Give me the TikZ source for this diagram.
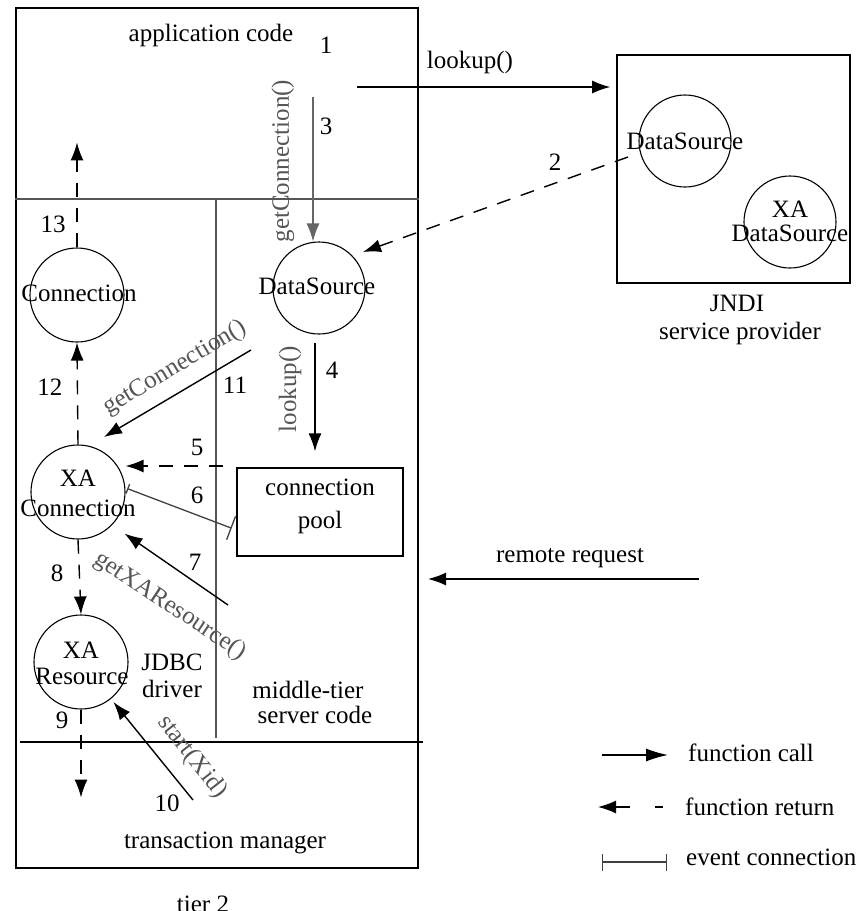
\documentclass[tikz,border=0pt]{standalone}
\usepackage{fontspec}
\setmainfont{Liberation Serif}
\usetikzlibrary{arrows.meta,calc}
\definecolor{fgray}{HTML}{555555}
\definecolor{lgray}{HTML}{666666}
\tikzset{
  lbl/.style={font=\fontsize{25}{28}\selectfont, inner sep=0pt},
  glbl/.style={lbl, text=fgray},
  circ/.style={draw, circle, line width=1.1pt, minimum size=#1, inner sep=0pt},
  call/.style={line width=1.4pt, -{Latex[length=18pt,width=13pt]}},
  gcall/.style={call, draw=lgray},
  ret/.style={call, dash pattern=on 14pt off 11pt},
  evt/.style={line width=1.3pt, draw=black!75},
  divider/.style={line width=1.5pt, draw=fgray},
}
\begin{document}
\begin{tikzpicture}[x=1pt,y=-1pt]
\useasboundingbox (0,0) rectangle (865,911);

% main tier box and dividers
\node[draw, line width=2pt, minimum width=402pt, minimum height=860pt, inner sep=0pt] (tier) at (217,438) {};
\draw[divider] (tier.west |- 0,199) -- (tier.east |- 0,199);
\draw[divider] (216,199) -- (216,738);
\draw[line width=1.5pt] (20,742) -- (423,742);

% texts in tier box
\node[lbl] (appcode) at (211,35) {application code};
\node[lbl] (n1) at (326,45) {1};
\node[lbl] (jdbc1) at (172,662) {JDBC};
\node[lbl] (jdbc2) at (172,689) {driver};
\node[lbl] (mid1) at (308,690) {middle-tier};
\node[lbl] (mid2) at (315,715) {server code};
\node[lbl] (tm) at (225,843) {transaction manager};
\node[lbl, anchor=base] (tier2) at (203,912) {tier 2};

% JNDI box
\node[draw, line width=1.6pt, minimum width=233pt, minimum height=228pt, inner sep=0pt] (jndi) at (733.5,169) {};
\node[circ=92pt] (jds) at (685,141) {};
\node[lbl] at (jds) {DataSource};
\node[circ=92pt] (jxa) at (790,222) {};
\node[lbl] (jxa1) at (790,209) {XA};
\node[lbl] (jxa2) at (790,233) {DataSource};
\node[lbl] (jndil1) at (737,303) {JNDI};
\node[lbl] (jndil2) at (740,333) {service provider};

% middle-tier objects
\node[circ=92pt] (ds) at (319,288) {};
\node[lbl] at (317,286) {DataSource};
\node[circ=94pt] (con) at (77,295) {};
\node[lbl] at (79,293) {Connection};
\node[circ=94pt] (xac) at (78,492) {};
\node[lbl] (xac1) at (78,478) {XA};
\node[lbl] (xac2) at (78,508) {Connection};
\node[circ=94pt] (xar) at (81,662) {};
\node[lbl] (xar1) at (81,650) {XA};
\node[lbl] (xar2) at (82,676) {Resource};
\node[draw, line width=1.3pt, minimum width=166pt, minimum height=88pt, inner sep=0pt] (pool) at (320,512) {};
\node[lbl] (pool1) at (320,487) {connection};
\node[lbl] (pool2) at (320,522) {pool};

% 1: lookup()
\coordinate (a1) at (357,87);
\draw[call] (a1) -- (jndi.west |- a1) [shorten >=6pt];
\node[lbl] at (470,62) {lookup()};

% 2: dashed return from JNDI DataSource
\coordinate (a2s) at (628,157);
\coordinate (a2e) at (363,252);
\draw[ret] (a2s) -- (a2e);
\node[lbl] at (555,162) {2};

% 3: getConnection()
\coordinate (a3) at (313,97);
\draw[gcall] (a3) -- (a3 |- ds.north);
\node[lbl] at (326,126) {3};
\node[glbl, rotate=90] at (283,161) {getConnection()};

% 4: lookup()
\draw[call, shorten <=8pt, shorten >=16pt] ([xshift=-4pt]ds.south) -- ([xshift=-5pt]pool.north);
\node[lbl] at (332,370) {4};
\node[glbl, rotate=90] at (290,389) {lookup()};

% 5: return to XA Connection
\coordinate (a5) at (223,466);
\draw[ret] (a5) -- (a5 -| xac.east);
\node[lbl] at (197,447) {5};

% 6: event connection
\draw[evt, {Bar[width=10pt]}-{Bar[width=25pt]}, shorten <=2pt, shorten >=5pt] (xac.5) -- ([yshift=-18pt]pool.west);
\node[lbl] at (197,495) {6};

% 7: getXAResource()
\coordinate (a7) at (228,605);
\draw[call, shorten >=15pt] (a7) -- (xac.-44);
\node[lbl] at (195,562) {7};
\node[glbl, rotate=-33.5] at (170,606) {getXAResource()};

% 8: XA Connection -> XA Resource
\draw[ret] (xac.south) -- (xar.north);
\node[lbl] at (57,573) {8};

% 9: return to transaction manager
\draw[ret] (xar.south) -- ++(0,88);
\node[lbl] at (62,720) {9};

% 10: start(Xid)
\coordinate (a10) at (193,800);
\draw[call, shorten >=4pt] (a10) -- (xar);
\node[lbl] at (167,803) {10};
\node[glbl, rotate=-52] at (192,757) {start(Xid)};

% 11: getConnection()
\coordinate (a11s) at (251,350);
\coordinate (a11e) at (104,437);
\draw[call] (a11s) -- (a11e);
\node[lbl] at (235,385) {11};
\node[glbl, rotate=30.8] at (175,368) {getConnection()};

% 12: Connection returned
\draw[ret] (xac.north) -- (con.south);
\node[lbl] at (50,387) {12};

% 13: return to application code
\draw[ret] (con.north) -- ++(0,-105);
\node[lbl] at (53,224) {13};

% remote request
\coordinate (rr) at (699,579);
\draw[call, shorten >=9pt] (rr) -- (rr -| tier.east);
\node[lbl] at (570,558) {remote request};

% legend
\coordinate (lg1s) at (602,755);
\coordinate (lg1e) at (668,755);
\draw[call, -{Latex[length=22pt,width=13pt]}] (lg1s) -- (lg1e);
\node[lbl, anchor=west] at (688,753) {function call};
\coordinate (lg2s) at (663,807);
\coordinate (lg2e) at (598,807);
\draw[call, dash pattern=on 8pt off 25pt on 80pt] (lg2s) -- (lg2e);
\node[lbl, anchor=west] at (685,807) {function return};
\coordinate (lg3s) at (602,862);
\coordinate (lg3e) at (667,862);
\draw[evt, {Bar[width=17pt]}-{Bar[width=17pt]}] (lg3s) -- (lg3e);
\node[lbl, anchor=west] at (686,857) {event connection};
\end{tikzpicture}
\end{document}
